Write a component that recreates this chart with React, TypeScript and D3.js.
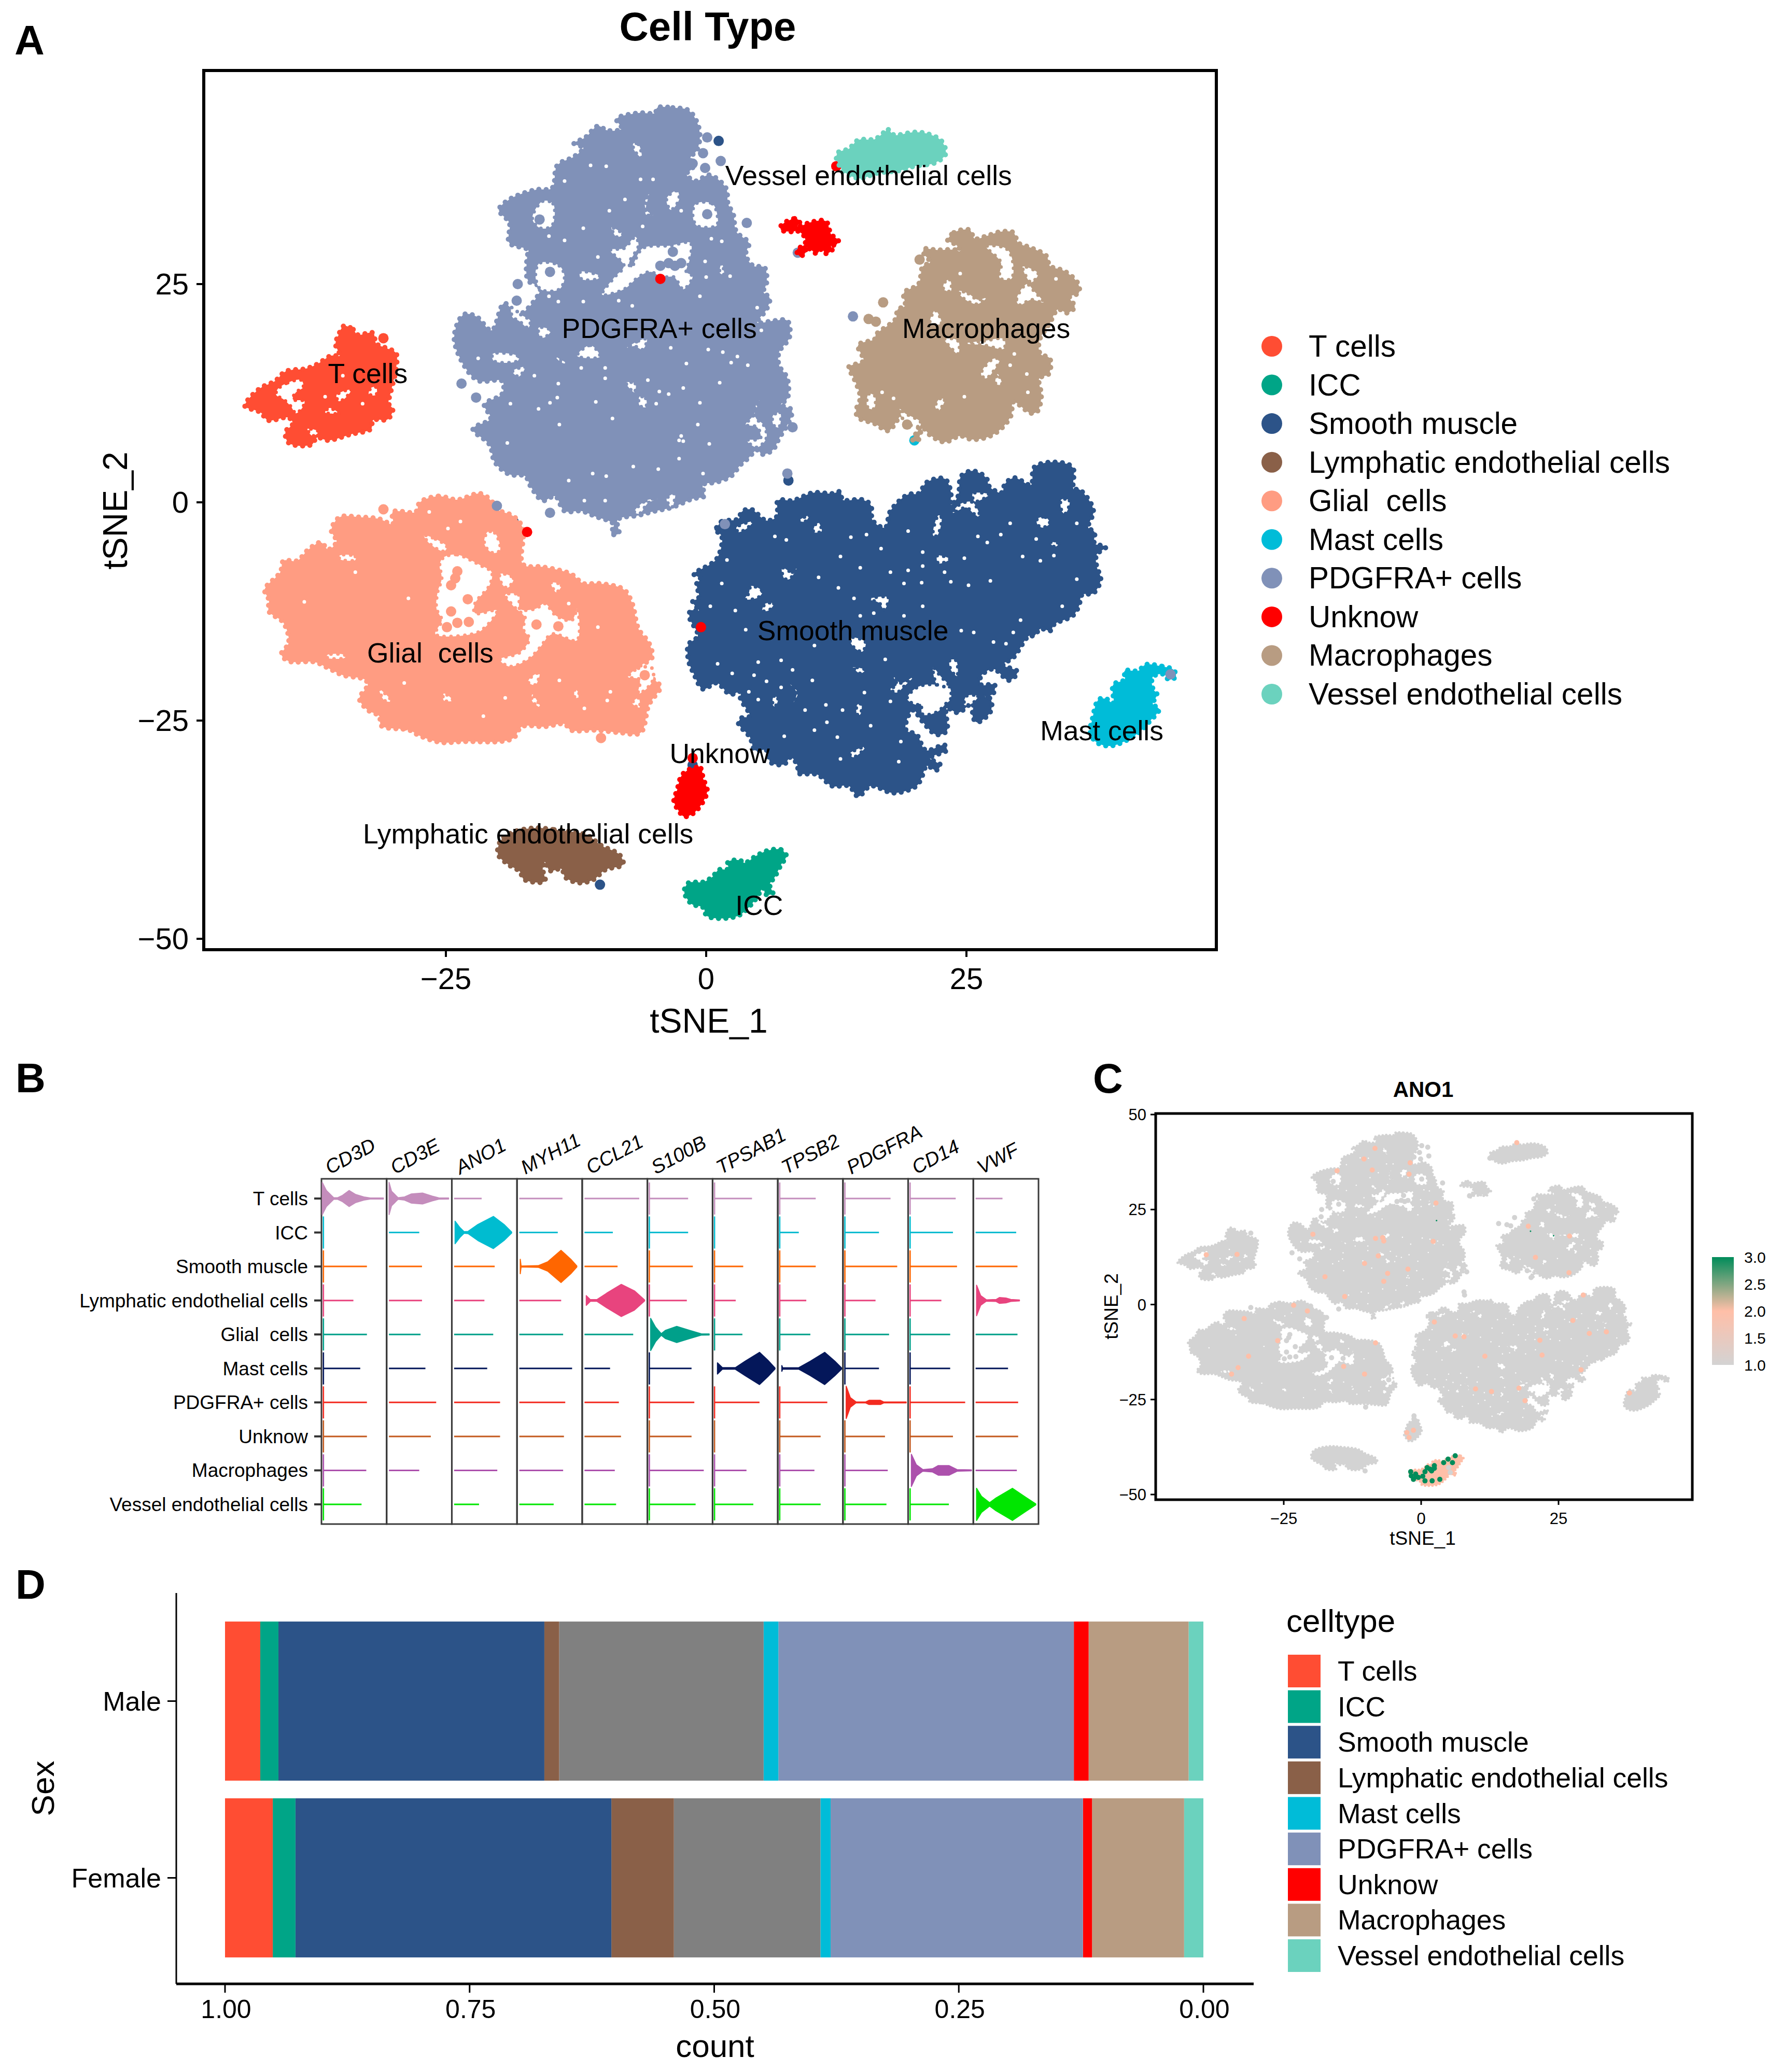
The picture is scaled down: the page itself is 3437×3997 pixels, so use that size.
import React from 'react';
import * as d3 from 'd3';

type Pt = [number, number];

const FONT = '"Liberation Sans", Arial, sans-serif';

// ---- cell types ----
const cellTypes = ['T cells', 'ICC', 'Smooth muscle', 'Lymphatic endothelial cells', 'Glial  cells', 'Mast cells', 'PDGFRA+ cells', 'Unknow', 'Macrophages', 'Vessel endothelial cells'];
const cellColors = ['#FF4D33', '#00A587', '#2C5388', '#8A6048', '#FF9C82', '#00BCD8', '#8091B8', '#FF0000', '#B89C82', '#6BD2BE'];

// ---- panel A: cluster edges, in tSNE units ----
const tCellsOutline: Pt[] = [[-34.8,20.2],[-33.9,19.8],[-33.5,19.2],[-32,19.4],[-31.7,18.2],[-30.8,17.7],[-29.8,17.1],[-29.8,15.2],[-30.3,12.6],[-30.5,11.3],[-30.1,10.7],[-30.6,9.5],[-32,9.4],[-32.2,8.4],[-34.1,7.8],[-36.3,7.1],[-37.4,7.4],[-37.9,6.6],[-40.1,6.8],[-40.4,8.1],[-39.7,9],[-40.1,9.7],[-42.1,9.4],[-42.8,10.3],[-44.3,11],[-44.1,11.6],[-42.8,13.1],[-41.4,13.9],[-40.4,15],[-38.5,15.3],[-37.4,15.8],[-36,16.8],[-35.2,16.8],[-35.6,18.1],[-35.3,19.2]];
const iccOutline: Pt[] = [[5.9,-39.9],[7.2,-39.8],[7.7,-40.5],[7.2,-41.5],[6.6,-42.9],[6.1,-43.8],[6.4,-44.8],[5.7,-44.9],[5.5,-44.2],[4.6,-45.7],[3,-47.4],[0.1,-47.4],[-0.3,-46.4],[-1.4,-46],[-2.1,-44.6],[-1.7,-43.6],[-0.3,-43.5],[0.6,-42.9],[1.2,-42.1],[2.1,-42],[2.1,-41.2],[3.2,-41],[3.7,-41.3],[4.8,-40.5]];
const smoothOutline: Pt[] = [[1,-2.9],[1.5,-2.2],[3.1,-1.9],[3.4,-1.1],[4.3,-0.8],[5.8,-2.1],[6.8,-1.6],[6.9,0.2],[8.3,0.2],[10.3,1.1],[12.1,1],[12.9,1.2],[13.1,0.3],[15,0.3],[15.8,-0.3],[16,-2.1],[17.2,-2.9],[17.7,-1],[19.4,0.9],[20.4,1],[21.2,2.3],[22.9,2.7],[23.5,1.2],[23.5,-0.3],[24.2,0.7],[24.5,3],[25.6,3.6],[26.9,2.8],[27.2,1.8],[28.4,1.1],[28.7,2.1],[29.6,2.8],[31.2,2],[31.5,4],[33.4,4.6],[35.2,4],[35.3,1.5],[35.8,1.5],[36.9,0],[37.2,-1.1],[36.7,-2.9],[37.3,-3.4],[37.3,-4.7],[38.4,-5.1],[37.5,-6],[37.5,-7.3],[37.9,-8.8],[37.2,-10.4],[36.1,-10.6],[35.8,-11.9],[35.2,-13],[33.4,-14],[33.1,-14.7],[32.1,-14.5],[31.5,-15.3],[31,-15.3],[29.5,-17.8],[28.5,-18.6],[29.9,-19.4],[29.1,-20.4],[27.6,-19.1],[26.4,-19.9],[26.4,-20.9],[27.7,-20.9],[27.5,-22],[26.1,-22.2],[27.3,-22.5],[27.3,-24],[26,-25.2],[25.6,-24.5],[25.6,-23],[24.2,-24.1],[23.1,-23.6],[23.1,-26.2],[22.1,-26.6],[20.7,-25],[19.9,-23.8],[19.4,-24.5],[19.2,-26.1],[20.2,-26.6],[21.1,-28.4],[22.9,-27.8],[23.1,-28.4],[21.5,-29.3],[22.5,-30.1],[22.1,-30.7],[21.2,-30.2],[20.7,-31.5],[20.2,-32.5],[18,-33.3],[15.8,-32.5],[14.6,-33.7],[13.7,-32.5],[12.1,-32.5],[10.7,-31.2],[8.8,-31],[8.8,-30.2],[8.1,-29.2],[7.5,-30],[6.2,-29.8],[5.8,-28.4],[4.7,-28.4],[4.2,-26.9],[3.1,-25.3],[3.4,-24.7],[4.2,-24.5],[3.3,-22.5],[3.3,-21.7],[2.3,-22],[1,-20.7],[-0.3,-21.4],[-1.2,-19.6],[-1.7,-18.1],[-1.7,-16.3],[-0.8,-15.3],[-1.6,-13.2],[-1.5,-12.4],[-0.7,-12.4],[-1.3,-11.4],[-0.7,-10.9],[-0.9,-9.3],[-0.5,-8.8],[-1.2,-8.2],[-0.7,-7.8],[1,-6.5],[1.5,-3.9],[0.8,-3.1]];
const lymphOutline: Pt[] = [[-16.4,-37.3],[-14.6,-37.5],[-11.5,-38.1],[-10.1,-39.3],[-8.3,-40.4],[-8,-41.5],[-9.7,-42.1],[-10.8,-43.2],[-12.1,-43.6],[-13.5,-43],[-13.9,-42],[-15,-42.2],[-15.5,-41.2],[-15.7,-42],[-15.5,-43.4],[-17.5,-43.2],[-17.9,-42.3],[-19,-41.5],[-20,-40.3],[-19.7,-38.7],[-18.6,-37.8]];
const glialOutline: Pt[] = [[-27.5,0],[-25.7,0.7],[-23.9,0.3],[-21.7,1],[-20.5,0],[-20.1,-0.8],[-18.5,-1.6],[-17.6,-3],[-17.6,-7.1],[-15.7,-7.4],[-13,-8.2],[-11.8,-9.3],[-10.3,-9.3],[-7.9,-10],[-7.1,-11.6],[-6.5,-14.5],[-5.5,-16.1],[-5.2,-17.8],[-6.5,-19],[-4.7,-20.6],[-4.4,-21.2],[-5.5,-23.2],[-6.3,-26.4],[-8.2,-26.4],[-10.6,-26.1],[-13,-26.1],[-13.6,-25.4],[-15.5,-25.7],[-17.7,-25.7],[-18.5,-27],[-19.8,-27.4],[-23.3,-27.4],[-25.5,-27.5],[-27.6,-26.7],[-28.5,-26.1],[-31.2,-25.6],[-31.4,-24.5],[-32.5,-23.8],[-33.3,-22.5],[-32.5,-20.9],[-32.8,-20.3],[-34.9,-19.8],[-36.3,-19],[-37.6,-18.3],[-40.1,-18.2],[-40.8,-17.4],[-40.1,-16.1],[-40.6,-13.8],[-42,-12.5],[-42,-11.2],[-42.4,-10],[-40.9,-8],[-40.6,-6.7],[-39.3,-6.7],[-38.2,-5.4],[-37,-4.6],[-36.3,-5.4],[-35.5,-4.5],[-36,-3.2],[-35.2,-1.7],[-33.3,-1.7],[-31.4,-1.9],[-30.1,-2.5],[-30.1,-1.1],[-27.9,-1.1]];
const mastOutline: Pt[] = [[42.2,-18.6],[43.8,-18.8],[44.9,-19.2],[45.1,-20],[44.4,-20.3],[44,-19.7],[42.9,-20],[42.9,-21.3],[43.3,-22],[42.9,-23.1],[43.5,-23.7],[42.6,-25.1],[41.3,-26.6],[38.9,-27.9],[37.5,-27.5],[36.9,-26.4],[37.1,-24.8],[37.7,-22.6],[38.4,-22.5],[39.1,-23],[39.1,-20.9],[40.2,-20.3],[40.2,-19.3],[41.5,-19.3]];
const pdgfraOutline: Pt[] = [[-4.7,45.2],[-3.2,45.2],[-1.7,44.9],[-0.9,43.6],[-0.6,42],[-0.9,40.3],[-1.5,39.5],[-1.3,38.3],[-1.9,37.6],[-1,36.8],[0.3,37.5],[1.9,36],[2.1,34.2],[2.6,33],[2.9,31],[4.1,29.7],[3.8,28.4],[4.5,27.1],[5.6,26.9],[5.8,25.1],[5.5,24.1],[6.1,23.4],[5.8,22.1],[4.9,20.6],[6.5,20.8],[7.8,20.8],[8,18.9],[7,17.2],[7,15.7],[7.8,14.2],[7.8,11.9],[7.2,11.2],[8.2,10.6],[8.1,9.6],[7,7.3],[6.4,6],[5.4,5.5],[4.9,6],[4,5],[3.3,4.3],[2.4,3],[1,2.3],[-0.3,2],[-0.2,0.7],[-1.3,0.4],[-3.3,-0.6],[-4.9,-1],[-6.5,-1.5],[-8.5,-2],[-8.4,-3.6],[-9.1,-3.6],[-8.9,-2.5],[-10.7,-1.6],[-12,-1],[-13.6,-1],[-14.5,0.7],[-15.7,0.2],[-16.8,1.7],[-17.4,3],[-18.9,3.2],[-20.3,4.6],[-20.8,6.6],[-22.4,8.4],[-20.7,9.6],[-21.3,11.2],[-19.6,12.4],[-19.6,13.9],[-21.8,13.9],[-23,15.2],[-24.2,18.8],[-23.3,21.5],[-22.1,21.3],[-20.6,19.7],[-19.4,22.8],[-18,21.5],[-15.9,24.6],[-17.1,25.4],[-17.2,28.1],[-17.1,28.9],[-18.9,29.7],[-18.9,32],[-19.9,33.5],[-18.9,34.7],[-16.4,35.8],[-14.8,36],[-14.3,38.6],[-12.7,39.6],[-11.8,40.6],[-12.7,41.1],[-11.6,41.8],[-10.4,43.1],[-9.5,42.6],[-8.1,42.8],[-8.6,43.9],[-6.5,44.6],[-4.9,44.6]];
const unknowTopOutline: Pt[] = [[7.2,31.7],[8.5,32.5],[9,32.2],[8.8,31.6],[10.1,32.1],[11.5,32.2],[12,30.7],[12.7,30],[12.5,29.5],[12,29.4],[12.1,28.9],[11.5,28.5],[11.1,29],[10.6,28.5],[10,29],[9.5,29.2],[9.6,28.7],[9,28.2],[8.7,28.9],[9.5,29.6],[9.4,30.5],[8.7,31.1],[8.3,31],[7.2,31.2]];
const unknowLowOutline: Pt[] = [[-1.2,-30.4],[-0.5,-30.5],[-0.3,-31.6],[0.1,-33],[-0.3,-34.3],[-1.2,-35.6],[-2.1,-36],[-2.6,-35.4],[-3.1,-34.2],[-2.8,-33],[-2.3,-31.2]];
const macroOutline: Pt[] = [[23.2,30],[23.8,30.9],[25.3,31.2],[25.8,30.2],[26.9,30.5],[28.3,31],[29.5,30.9],[30,29.7],[31.1,29.2],[32.7,28.2],[33,27.1],[34.4,26.5],[35.7,25.1],[35.8,24],[34.9,23.5],[35.4,22.4],[34.7,21.7],[33.8,22.1],[33,20.5],[32,18.5],[32.1,17],[33,16.5],[32.9,14.7],[32,14.2],[32.2,12.2],[31.8,10.4],[31.2,10.2],[29.5,11.5],[29.3,10],[28.4,8.5],[27.1,7.5],[25.5,7.2],[24.4,7.6],[22.9,6.9],[21.5,7.7],[20.8,8.5],[20.3,7],[19.8,7.2],[20.4,8.5],[18.9,10],[17.5,8.2],[16.2,9],[14.6,9.7],[14.4,10.5],[14.8,12],[14.2,14.2],[13.7,15.5],[15.1,16.2],[14.6,18],[16.2,18.7],[16.3,19.2],[18.2,21],[18.4,22.1],[19.1,22.5],[19,24],[20.4,25],[20.8,27],[21.5,27.5],[20.9,28.5],[20.9,29],[22.2,28.9],[24,28.9],[24.6,28.5],[24,29.5]];
const vesselOutline: Pt[] = [[17.1,42.4],[17.5,42.7],[18,42.1],[20,42.4],[21.3,42.2],[22.6,41.4],[23,39.9],[22,38.9],[20,38.5],[18.6,38],[16.4,37.7],[14.8,37.1],[13.7,37.5],[13,38.2],[12.5,39.5],[12.7,40.1],[13.7,40.5],[14.6,41.5],[16.2,41.6]];

// ---- empty patches inside the clusters ----
const tCellsGaps: Pt[][] = [
  [[-41.2,12.9],[-40.2,13.7],[-38.9,14],[-38.7,13.2],[-39.4,12.6],[-39.7,11.8],[-38.6,11.6],[-38.7,11],[-39.4,10.2],[-39.9,11],[-40.6,11.8],[-41.3,12.3]],
  [[-35.5,12.3],[-34.1,12.9],[-34.7,11.9],[-35.3,11.6]],
  [[-36.6,10.3],[-35.3,10.2],[-36.2,10.8]],
  [[-32.2,13.1],[-31.7,13.2],[-31.7,12.3],[-32.4,12.4]],
  [[-38.3,8.4],[-37.2,8.1],[-37.8,7.6]],
];
const smoothGaps: Pt[][] = [
  [[23.3,-21],[23.5,-22.5],[23,-23.1],[22.2,-24],[20.8,-24.3],[20.6,-23.1],[20.2,-23.2],[19.3,-22.5],[20,-21.4],[21,-20.9],[22.2,-20.9]],
  [[21.8,-18.9],[22.2,-20.9],[23.3,-21],[22.5,-19.9]],
  [[25,-22.2],[26.1,-22.2],[25.6,-23],[24.8,-23.2]],
  [[25.6,0],[26.3,-1.7],[25.7,-1.3],[25,-0.6],[23.7,-1.2],[24.4,-0.2]],
  [[25.6,1],[27.2,0.9],[25.8,0.1]],
  [[31.8,-1.9],[32.6,-1.7],[33,-2.4],[32.3,-2.9],[31.8,-2.5]],
  [[34.1,0.3],[34.9,0.2],[34.5,-1.3],[34.2,-1.1]],
  [[22.3,-1.5],[22.6,-1.7],[22.2,-3.8],[21.8,-3.8]],
  [[4.3,-9.6],[5.4,-10.2],[5,-10.9],[3.7,-11.1],[4.1,-10.4]],
  [[7.3,-7.5],[8.3,-8],[8.8,-7.3],[8,-8.8],[7.5,-8.7]],
  [[2.9,-2.9],[4.5,-2.2],[3.9,-3],[3.1,-3.4]],
  [[10.3,-3.4],[10.7,-2.2],[11.1,-3.3]],
  [[8.9,-2.1],[9.9,-1.5],[9.5,-2.2]],
  [[15.6,-11.1],[17.5,-10.9],[17.1,-12.3],[16.6,-11.5]],
  [[5.7,-11.6],[6.5,-11.6],[6,-12.4],[5.4,-12.4]],
  [[13.8,-15.5],[15.3,-16],[15,-17.1],[14.1,-16.5]],
  [[13.8,-28.8],[15.3,-28],[15,-28.5],[14.1,-29.2]],
  [[17.9,-19.8],[18.7,-20.7],[19.9,-20],[19,-21.1],[18.3,-21.8],[17.7,-21.4],[18.3,-20.9]],
  [[6.5,-22.2],[6.9,-22.5],[6.6,-23.4],[6.4,-23.2]],
  [[7.9,-20.7],[8.8,-21.8],[8.4,-22.9],[8.7,-21.8]],
  [[14.5,-23.2],[14.9,-23.1],[14.8,-24.3],[14.5,-24.3]],
  [[14.1,-18.9],[15.3,-19.2],[14.8,-19.6]],
  [[22.2,-6.1],[23.4,-6.5],[22.3,-7]],
  [[33,-4.6],[33.9,-4.7],[33.5,-5.1]],
  [[23.4,-18.1],[24,-18.1],[24.1,-19.9],[23.5,-19.2]],
];
const glialGaps: Pt[][] = [
  [[-25.2,-6.3],[-23.9,-6],[-22.5,-6.7],[-21.7,-7.2],[-20.6,-8],[-20.8,-9.5],[-22.2,-11.6],[-22.2,-12.7],[-20.1,-12.4],[-21.4,-14.5],[-22.5,-15.1],[-26,-15.1],[-25.4,-13.5],[-25.9,-12.2],[-25.8,-10.3],[-25.4,-8.7],[-25.6,-7.1]],
  [[-19.3,-10.6],[-18,-10.6],[-17.9,-12.2],[-16.4,-12.2],[-15.5,-11.6],[-14.4,-13],[-12.9,-13.5],[-12.4,-12.2],[-12.4,-15.8],[-14.8,-15.1],[-16,-16.7],[-17.1,-18],[-18.9,-18.8],[-19.8,-18],[-17.9,-17.2],[-17,-15.6],[-17.6,-14.5],[-17.4,-13.2],[-18.5,-11.9]],
  [[-19.8,-8.2],[-18.5,-8.7],[-19.1,-9.8],[-19.7,-9.2]],
  [[-21,-3.4],[-20.3,-3.5],[-19.8,-5.5],[-20.5,-5.8],[-21.3,-4.8]],
  [[-14.9,-9.2],[-13.9,-9.5],[-14.4,-10.3]],
  [[-16.8,-20],[-16,-19.5],[-16.4,-20.9],[-17.1,-20.6]],
  [[-7.5,-20],[-6.5,-19],[-5.2,-19],[-5.2,-20.6],[-6.5,-21.9],[-6.4,-20.3]],
  [[-7.1,-23],[-6.5,-22.4],[-6.4,-23.5]],
  [[-12.6,-21.4],[-12.1,-22.2],[-12.6,-22.4]],
  [[-16.7,-22],[-15.9,-23.5],[-16.7,-22.8]],
  [[-31.4,-21.4],[-30.2,-22.8],[-30.9,-22.7]],
  [[-25.2,-21.9],[-24.3,-22.7],[-25.2,-22.7]],
  [[-36.4,-17.5],[-34.7,-17.5],[-34.7,-17.8],[-36.4,-17.8]],
  [[-35.2,-6.1],[-33.7,-6.2],[-33.7,-6.6],[-35.2,-6.5]],
  [[-27.1,-3.8],[-26,-4.2],[-24.9,-5.1],[-25.2,-5.6],[-26.5,-4.8]],
];
const pdgfraGaps: Pt[][] = [
  [[-15.7,34.5],[-14.7,34.2],[-14.8,31.7],[-15.9,31.4],[-16.7,32.5]],
  [[-1,34.2],[0.6,34.2],[1.1,32.7],[1,31.7],[-0.9,31.7],[-1.3,33]],
  [[-9.2,28.9],[-7.9,29.1],[-6.8,30.4],[-6.5,29.4],[-7.4,27.4],[-7.2,26.9],[-6.1,29.1],[-3.5,29.4],[-1.5,29.7],[-1.6,27.7],[-1.9,26.4],[-1.3,25.9],[-2.2,24.4],[-3.1,25.8],[-4.2,25.8],[-5.4,26.4],[-6.5,25.8],[-7.9,24.4],[-10,23.8],[-8.8,25.8],[-7.9,27.1]],
  [[-16,27.4],[-14.1,27.1],[-13.6,25.8],[-14.1,24.4],[-15.9,24.4],[-16.4,26.1]],
  [[-12.1,26.4],[-10.2,25.9],[-10.4,25.6],[-12,25.6]],
  [[-20.5,17],[-18,16.7],[-18.1,16.2],[-20.4,16.2]],
  [[-12.4,16.8],[-11.1,18],[-10.2,16.7],[-11.3,16.5]],
  [[-18.7,22.3],[-17.8,21.5],[-16.9,20.8],[-17.1,20],[-18,20.8],[-18.6,21.2]],
  [[5.1,11.7],[4.5,9.9],[3.8,8.9],[4.9,8.6],[5.2,7.3],[3.9,7.1],[4.9,6.3],[5.8,7.4],[5.5,8.9],[4.8,9.6],[4.7,10.8]],
  [[6.4,9.9],[7.1,10.3],[7,8.6],[6.5,8.8]],
  [[-5.5,35.3],[-5.9,34.3],[-5.7,33.4],[-5.1,32.9],[-5.8,33]],
  [[-3.8,34.8],[-2.8,35.7],[-2.6,34.7],[-3.4,33.5]],
  [[-7.6,17.7],[-6.5,18.5],[-5.7,18.7],[-6.1,17.5],[-6.9,17.9]],
  [[-7.7,13.7],[-6.8,13.6],[-6.9,12.6]],
  [[-9.1,31.5],[-8,30.7],[-8.6,30.4]],
  [[-16.1,20],[-14.9,19.7],[-15.5,18.9],[-15.9,18.9]],
  [[1.5,27.4],[1.7,26.1],[1.3,26.3]],
  [[-7,41.1],[-6.5,41],[-6.2,39.5],[-6.9,40.3]],
  [[-6.4,12.1],[-5.8,11.9],[-5.8,10.9],[-6.4,11.1]],
  [[-14.5,16.7],[-13.4,15.9],[-13.9,16]],
  [[-18.6,15],[-17.4,15.5],[-18,14.4]],
  [[-6.9,-1.1],[-5.8,0.2],[-4.7,0.4],[-5.6,-0.1],[-6.4,-1.3]],
  [[-3.8,0.4],[-3,1],[-3.3,-0.6]],
];
const macroGaps: Pt[][] = [
  [[26.9,29.3],[28.9,29],[29.5,27.2],[29.3,25.6],[28.2,25.7],[28.3,27.5]],
  [[30.8,25],[29.8,23.2],[30.1,22.6],[31.2,23.2],[32.4,22.9],[31.5,24.2]],
  [[30.4,27],[31.9,26.2],[31.2,25.2]],
  [[24.3,24.2],[25.2,23.9],[26.1,23.2],[27,23.5],[26,22.7],[24.5,23.6]],
  [[22.9,25.2],[23.4,25.5],[23.5,24.2],[22.8,24.4]],
  [[22,22],[22.6,20.5],[21.5,20.5]],
  [[22.9,18.7],[24.2,18.5],[24.2,17],[23.5,17.7]],
  [[24.9,18.2],[26.7,18.5],[28.6,18.7],[28.6,17.6],[26.7,18]],
  [[27.5,16.4],[28.2,16.4],[26.9,14.2],[26.4,14.7]],
  [[28,14.7],[28.4,13.5],[27.8,13.6]],
  [[15.6,12.4],[16.2,12.2],[16.1,10.7],[15.5,10.9]],
  [[18.6,10.7],[19.1,9.2],[20.5,8.7],[20.6,9.2],[19.1,10.2]],
  [[22.5,11.9],[22.9,11.7],[22.3,10.5],[22,11]],
];

// small single holes
const tCellsSpecks: Pt[] = [[-36.6,12.1],[-33,11.3],[-34.9,14.5]];
const smoothSpecks: Pt[] = [[15.4,-3.7],[13.9,-4],[6.6,-3.9],[10.8,-8.6],[12.7,-9.8],[14.2,-11],[24.8,-6.4],[35.6,-8.8],[34.2,-11.9],[28.8,-16.2],[20.8,-11.9],[19,-9.3],[20.7,-9.2],[10.4,-16.4],[10.2,-20.4],[4.6,-19.8],[2.5,-19.6],[29.5,-14.9],[25.7,-14.9],[12.6,-26.9],[11.6,-25.2],[2,-6.6],[0.4,-11.9],[1.5,-9.3],[2.8,-12.4],[3.8,-14.6],[7.7,-4.3],[12.9,-6.2],[16.8,-5.3],[14.8,-7.5],[17.7,-8],[19.4,-7.8],[20.8,-7.3],[22.9,-8],[23.5,-9.1],[25.2,-9.5],[27.3,-9],[32.1,-6.7],[33.4,-6.1],[30.4,-6.2],[31.7,-4.2],[29.2,-2.4],[28.3,-3.7],[26.1,-3.9],[35.6,-2.4],[27,-4.6],[20.8,-5.7],[19.4,-3.3],[14.8,-13],[19,-13],[16.1,-12.7],[24.5,-14.7],[30.2,-13.5],[27.6,-16],[17.2,-18],[7.2,-18.1],[1.1,-18.5],[5,-18.3],[8.3,-19.2],[5.8,-20.5],[7.2,-21.2],[4.1,-21.7],[5,-22.6],[9.5,-23.8],[11.5,-23.2],[13.1,-23.8],[17.7,-22.8],[15.2,-21.8],[7.5,-26.8],[10.4,-26.1],[15.8,-25.6],[18.7,-27.4],[12.9,-29.4],[18.5,-29.7]];
const glialSpecks: Pt[] = [[-26.6,-1.1],[-23.6,-2.2],[-24.8,-3],[-38.6,-11.4],[-10.4,-14.3],[-19.3,-22.4],[-9.5,-22.7],[-11.7,-23.6],[-21.4,-24.5],[-29,-20.7],[-14.1,-20.4],[-9.2,-21.7],[-33.7,-8],[-28.6,-11],[-13.2,-11.6]];
const pdgfraSpecks: Pt[] = [[-11.8,31.4],[-11.1,38.6],[4,15.7],[0.2,17.5],[-3.4,17.7],[-1.9,15.9],[2.4,16],[-21.9,16.5],[-14.2,13.6],[-0.6,23.6],[-8.4,23.1],[-7.1,22.5],[-0.8,8.9],[-2.6,7.1],[-9.7,0.2],[-11.7,0.2],[-14.1,8.9],[-0.6,11.4],[-7.8,34.7],[-13.6,36.8],[-2.4,33.4],[5.3,19.7],[-9.6,38.5],[-6.3,37],[-5.1,37],[-9.3,33.4],[-13.6,30],[-15.1,30.5],[-6.1,31.6],[1.5,29.9],[0.5,30.2],[-10.4,28.1],[-0.1,27.6],[0,25.8],[2.3,25.9],[4.9,22.3],[-11.8,23],[-15.1,23.6],[-14.2,23],[1.6,17.2],[3,16.7],[-9.7,15.4],[-12,15.4],[-16.5,14.5],[-9.7,14.2],[-5.6,14],[1.3,13.7],[-4.5,12.7],[-3.6,12.4],[-2.2,13.1],[-14.3,12],[-18.8,11.3],[-16.1,10.7],[-15,11.4],[-10.6,11.5],[-4.8,11.3],[-9,9.6],[-2.4,7.6],[-2.2,7],[0.3,6.7],[-10.9,3.3],[-9.6,3],[-13.2,2.5],[-4.6,3.8],[-0.3,3.3],[-2.6,5],[-7,4.1],[-19.1,6.8]];
const macroSpecks: Pt[] = [[30.9,12.6],[29.2,15.7],[30.8,14.7],[16.9,12.6],[18,11.9],[24.8,12.1],[29.6,17],[33.6,25.6],[24.4,26.2]];

// points sitting alone or in the holes, by cell type
const tCellsDots: Pt[] = [[-31,18.8]];
const iccDots: Pt[] = [];
const smoothDots: Pt[] = [[1.2,41.4],[7.9,2.5],[-18.5,-2.2],[-10.2,-43.8],[-1.3,-30.1]];
const lymphDots: Pt[] = [];
const glialDots: Pt[] = [[-24.1,-8.7],[-23.9,-7.9],[-24.5,-9.5],[-22.9,-11.1],[-24.5,-12.5],[-24.9,-14.3],[-23.9,-13.8],[-22.8,-13.7],[-16.3,-14],[-14.2,-14.2],[-5.9,-19.8],[-31,-0.8],[-10.1,-27],[-29,-25.6]];
const mastDots: Pt[] = [[20,7.1]];
const pdgfraDots: Pt[] = [[-16,32.4],[0.1,33],[-15,26.4],[-4.4,27.1],[-3.2,28.7],[-3,27.1],[-2.4,27.4],[-5.3,25.8],[-3.6,27.4],[0.1,41.8],[-0.3,40],[1.4,39.1],[-0.1,38.3],[-1.3,38.8],[3.9,32],[-18.1,25],[-18.2,23.1],[-23.5,13.6],[-22.1,12],[-15,-1.2],[8.3,8.6],[7.8,3.3],[-20.1,-0.4],[1.8,-2.5],[8.8,28.6],[14.1,21.3],[44.6,-19.7]];
const unknowDots: Pt[] = [[-4.4,25.6],[-17.2,-3.4],[12.5,38.5],[-0.5,-14.3],[-1.3,-29.3]];
const macroDots: Pt[] = [[17,22.9],[15.6,21],[16.3,20.7],[19.3,8.9],[20.5,27.8]];
const vesselDots: Pt[] = [];

const clusterOutlines: Pt[][][] = [[tCellsOutline], [iccOutline], [smoothOutline], [lymphOutline], [glialOutline], [mastOutline], [pdgfraOutline], [unknowTopOutline, unknowLowOutline], [macroOutline], [vesselOutline]];
const clusterGaps: Pt[][][] = [tCellsGaps, [], smoothGaps, [], glialGaps, [], pdgfraGaps, [], macroGaps, []];
const clusterSpecks: Pt[][] = [tCellsSpecks, [], smoothSpecks, [], glialSpecks, [], pdgfraSpecks, [], macroSpecks, []];
const clusterDots: Pt[][] = [tCellsDots, iccDots, smoothDots, lymphDots, glialDots, mastDots, pdgfraDots, unknowDots, macroDots, vesselDots];
const drawOrder = [5, 0, 1, 2, 3, 4, 6, 7, 8, 9];

const tsneTicksX = [-25, 0, 25];
const tsneTicksYA = [25, 0, -25, -50];
const tsneTicksYC = [50, 25, 0, -25, -50];

const labelNames = ['Vessel endothelial cells', 'Macrophages', 'PDGFRA+ cells', 'T cells', 'Smooth muscle', 'Glial  cells', 'Mast cells', 'Unknow', 'Lymphatic endothelial cells', 'ICC'];
const labelX = [15.6, 26.9, -4.5, -32.5, 14.1, -26.5, 38, 1.3, -17.1, 5.1];
const labelY = [37.4, 19.9, 19.9, 14.7, -14.7, -17.3, -26.2, -28.8, -38, -46.2];

// ---- panel B ----
const genes = ['CD3D', 'CD3E', 'ANO1', 'MYH11', 'CCL21', 'S100B', 'TPSAB1', 'TPSB2', 'PDGFRA', 'CD14', 'VWF'];
const violinRows = ['T cells', 'ICC', 'Smooth muscle', 'Lymphatic endothelial cells', 'Glial  cells', 'Mast cells', 'PDGFRA+ cells', 'Unknow', 'Macrophages', 'Vessel endothelial cells'];
const violinColors = ['#C48DBC', '#00BCD0', '#FF6600', '#E8447E', '#00A08A', '#04175A', '#F32B20', '#C3591E', '#AC50AC', '#00E600'];
const spikeGenes = ['CD3D', 'S100B', 'TPSAB1', 'TPSB2', 'PDGFRA', 'CD14'];
// highest expression reached per row and gene
const maxExpression = [
  [3.8, 3.8, 1.83, 2.79, 3.5, 2.5, 2.42, 2.33, 2.92, 2.92, 1.79],
  [0, 2.0, 3.67, 2.5, 1.88, 2.5, 0, 1.29, 2.21, 2.75, 2.63],
  [2.79, 2.17, 2.63, 3.67, 2.17, 2.79, 1.88, 2.33, 3.33, 3.0, 2.71],
  [1.96, 2.17, 2.0, 2.71, 3.83, 2.42, 1.42, 1.75, 2.0, 2.04, 2.83],
  [2.79, 2.08, 2.54, 2.83, 3.13, 3.79, 1.83, 2.0, 2.83, 2.58, 2.71],
  [2.38, 2.38, 2.17, 3.38, 1.71, 2.71, 3.83, 3.92, 2.21, 2.58, 2.13],
  [2.79, 3.04, 2.96, 2.96, 2.25, 2.88, 2.88, 3.04, 3.88, 3.5, 2.75],
  [2.79, 2.71, 2.96, 2.88, 2.38, 2.71, 0, 2.63, 2.58, 2.75, 2.75],
  [2.75, 2.0, 2.79, 2.83, 2.0, 3.46, 2.08, 2.25, 2.75, 3.88, 2.67],
  [2.46, 0, 1.67, 2.25, 2.08, 2.96, 2.5, 2.63, 2.67, 2.5, 3.83],
];
// full violin shapes where a marker is expressed: [expression, half width]
const violinShapes: { gene: string; row: string; shape: Pt[] }[] = [
  { gene: 'CD3D', row: 'T cells', shape: [[0.05,1],[0.3,0.5],[0.75,0.05],[1,0.05],[1.3,0.2],[1.7,0.5],[2.1,0.25],[2.6,0.1],[3,0.03],[3.8,0.03]] },
  { gene: 'CD3E', row: 'T cells', shape: [[0.15,1],[0.3,0.45],[0.7,0.05],[1.1,0.1],[1.5,0.28],[2.2,0.34],[2.8,0.15],[3.2,0.04],[3.8,0.03]] },
  { gene: 'ANO1', row: 'ICC', shape: [[0.2,0.7],[0.5,0.3],[0.75,0.05],[1,0.07],[1.6,0.5],[2.55,1],[3.2,0.5],[3.67,0.03]] },
  { gene: 'MYH11', row: 'Smooth muscle', shape: [[0.2,0.45],[0.25,0.03],[1.3,0.05],[1.9,0.3],[2.7,1],[3.3,0.45],[3.67,0.03]] },
  { gene: 'CCL21', row: 'Lymphatic endothelial cells', shape: [[0.25,0.3],[0.5,0.05],[0.9,0.05],[1.5,0.45],[2.4,1],[3.2,0.6],[3.83,0.03]] },
  { gene: 'S100B', row: 'Glial  cells', shape: [[0.2,1],[0.5,0.45],[0.85,0.05],[1.1,0.25],[1.8,0.5],[2.6,0.25],[3.3,0.04],[3.79,0.03]] },
  { gene: 'TPSAB1', row: 'Mast cells', shape: [[0.3,0.35],[0.6,0.05],[1.4,0.05],[2,0.45],[2.88,1],[3.4,0.5],[3.83,0.03]] },
  { gene: 'TPSB2', row: 'Mast cells', shape: [[0.25,0.18],[0.3,0.04],[1.3,0.05],[2,0.45],[2.88,1],[3.5,0.45],[3.92,0.03]] },
  { gene: 'PDGFRA', row: 'PDGFRA+ cells', shape: [[0.2,1],[0.45,0.3],[0.8,0.03],[1.4,0.03],[1.6,0.13],[2.3,0.13],[2.5,0.03],[3.88,0.03]] },
  { gene: 'CD14', row: 'Macrophages', shape: [[0.2,1],[0.5,0.35],[0.9,0.05],[1.5,0.1],[1.85,0.3],[2.5,0.3],[3,0.05],[3.88,0.03]] },
  { gene: 'VWF', row: 'Lymphatic endothelial cells', shape: [[0.2,0.95],[0.45,0.3],[0.8,0.04],[1.4,0.06],[1.6,0.18],[2,0.15],[2.3,0.06],[2.83,0.03]] },
  { gene: 'VWF', row: 'Vessel endothelial cells', shape: [[0.2,1],[0.5,0.5],[1,0.1],[1.4,0.4],[2.4,1],[3.2,0.45],[3.83,0.03]] },
];

// ---- panel C ----
const ano1LowDots: Pt[] = [[17.4,42.6],[-10.4,38.3],[-8.4,41.1],[-15.3,35.2],[-2.2,34.3],[-2,37.3],[-8.9,35.4],[2.7,26.7],[-7,17.6],[-8.3,17.4],[-6.8,16.7],[-19.7,18.5],[2.2,16.6],[-17.5,7.3],[-6.1,8.2],[-6.8,6.1],[-2.4,9.3],[-7.8,12.8],[-10.3,10.8],[-13.9,2.1],[-39.1,13.1],[-33.5,13.2],[19.5,20.6],[27,18],[26.9,8.4],[20.8,12.4],[29.5,2.5],[27.6,-4.2],[2.4,-4.6],[7.8,-8.5],[6.2,-8.3],[21.6,-9.4],[11.6,-13.6],[30.6,-7.6],[33.7,-7.2],[29.1,-17.2],[9.9,-22.2],[12.8,-22.9],[17.8,-22],[18.9,-25.3],[22,-13.3],[37.9,-23.3],[-20.7,-1.7],[-26.1,-9.5],[-8.3,-10.1],[-31.4,-13.6],[-33.3,-16.6],[-34.5,-18.3],[-10.3,-18.3],[-14.1,-16.3],[-23.2,-0.2],[-32.2,-3.7],[-2.6,-33.7],[-1.4,-33.1],[-2.2,-35]];
const ano1SparseHigh: Pt[] = [[2.8,22.1],[19.9,19.3],[24.1,18.1]];
const ano1IccHigh: Pt[] = [[6.2,-39.8],[5.7,-41.6],[4.9,-40.7],[1.6,-43.3],[0.7,-44],[2.4,-42.4],[-1,-44.6],[-1.9,-44],[-0.5,-45.5],[0.7,-46.4],[-1.4,-46],[2,-46.4],[3.4,-46],[4.1,-41.6],[1.1,-42.9],[0.3,-45.2],[-1.8,-45.1],[1.9,-43.8],[2.4,-43.1],[-0.9,-45.3]];
const iccGreyDots: Pt[] = [[5.3,-44.2],[5,-42.9]];
const ano1Domain = [1, 2, 3];
const ano1Range = ['#D3D3D3', '#FFBFA8', '#008C5A'];
const ano1Ticks = [1, 1.5, 2, 2.5, 3];

// ---- panel D ----
const sexes = ['Male', 'Female'];
const stackedTypes = ['T cells', 'ICC', 'Smooth muscle', 'Lymphatic endothelial cells', 'Glial  cells', 'Mast cells', 'PDGFRA+ cells', 'Unknow', 'Macrophages', 'Vessel endothelial cells'];
const maleShare = [0.036, 0.0186, 0.2718, 0.0151, 0.209, 0.0151, 0.302, 0.0151, 0.1022, 0.0151];
const femaleShare = [0.0488, 0.0232, 0.3229, 0.0639, 0.1498, 0.0104, 0.2579, 0.0093, 0.0941, 0.0197];
const stackColors = ['#FF4D33', '#00A587', '#2C5388', '#8A6048', '#808080', '#00BCD8', '#8091B8', '#FF0000', '#B89C82', '#6BD2BE'];
const countTicks = [1, 0.75, 0.5, 0.25, 0];
const legendDTypes = ['T cells', 'ICC', 'Smooth muscle', 'Lymphatic endothelial cells', 'Mast cells', 'PDGFRA+ cells', 'Unknow', 'Macrophages', 'Vessel endothelial cells'];

const fmt = (n: number) => (n < 0 ? '\u2212' + Math.abs(n) : String(n));

function Clusters({ x, y, r, speck, color, gapBump }: { x: d3.ScaleLinear<number, number>; y: d3.ScaleLinear<number, number>; r: number; speck: number; color: (i: number) => string; gapBump: number }) {
  const blob = d3.line<Pt>().x(d => x(d[0])).y(d => y(d[1])).curve(d3.curveCatmullRomClosed.alpha(0.5));
  return (
    <g>
      {drawOrder.map(i => (
        <g key={i} fill={color(i)}>
          {clusterOutlines[i].map((o, k) => (
            // round dashes along the edge give the bumpy rim of overlapping points
            <path key={k} d={blob(o) || ''} stroke={color(i)} strokeWidth={r} strokeLinecap="round" strokeDasharray={`0 ${r * 1.4}`} />
          ))}
          {clusterGaps[i].map((g, k) => (
            <g key={k}>
              <path d={blob(g) || ''} fill="#fff" />
              <path d={blob(g) || ''} fill="none" stroke={color(i)} strokeWidth={gapBump} strokeLinecap="round" strokeDasharray={`0 ${gapBump * 1.9}`} />
            </g>
          ))}
          {clusterSpecks[i].map((p, k) => <circle key={k} cx={x(p[0])} cy={y(p[1])} r={speck} fill="#fff" />)}
          {clusterDots[i].map((p, k) => <circle key={k} cx={x(p[0])} cy={y(p[1])} r={r} />)}
        </g>
      ))}
    </g>
  );
}

function PanelA() {
  const x = d3.scaleLinear().domain([-25, 25]).range([860, 1864]);
  const y = d3.scaleLinear().domain([25, -50]).range([548, 1811]);
  const legendY = d3.scalePoint<string>().domain(cellTypes).range([668, 1339]);
  return (
    <g>
      <Clusters x={x} y={y} r={10} speck={3.5} color={i => cellColors[i]} gapBump={7} />
      <rect x={393} y={136} width={1953} height={1696} fill="none" stroke="#000" strokeWidth={6} />
      {tsneTicksX.map(t => (
        <g key={t}>
          <line x1={x(t)} x2={x(t)} y1={1832} y2={1846} stroke="#000" strokeWidth={4} />
          <text x={x(t)} y={1908} textAnchor="middle" fontSize={58}>{fmt(t)}</text>
        </g>
      ))}
      {tsneTicksYA.map(t => (
        <g key={t}>
          <line x1={379} x2={393} y1={y(t)} y2={y(t)} stroke="#000" strokeWidth={4} />
          <text x={364} y={y(t) + 20} textAnchor="end" fontSize={58}>{fmt(t)}</text>
        </g>
      ))}
      {labelNames.map((l, i) => (
        <text key={l} x={x(labelX[i])} y={y(labelY[i]) + 18} textAnchor="middle" fontSize={53.5} style={{ whiteSpace: 'pre' }}>{l}</text>
      ))}
      <text x={1365} y={78} textAnchor="middle" fontSize={78} fontWeight="bold">Cell Type</text>
      <text x={1367} y={1992} textAnchor="middle" fontSize={66}>tSNE_1</text>
      <text transform="translate(245,985) rotate(-90)" textAnchor="middle" fontSize={66}>tSNE_2</text>
      {cellTypes.map((c, i) => (
        <g key={c}>
          <circle cx={2453} cy={legendY(c)} r={20} fill={cellColors[i]} />
          <text x={2524} y={(legendY(c) || 0) + 20} fontSize={58.5} style={{ whiteSpace: 'pre' }}>{c}</text>
        </g>
      ))}
    </g>
  );
}

function PanelB() {
  const col = d3.scaleBand<string>().domain(genes).range([620, 2003]);
  const row = d3.scalePoint<string>().domain(violinRows).range([2312, 2902]);
  const expr = d3.scaleLinear().domain([0, 4]).range([0, col.bandwidth()]);
  const spread = d3.scaleLinear().domain([0, 1]).range([0, 31]);
  const violin = d3.line<Pt>().curve(d3.curveLinearClosed);
  const violinPath = (shape: Pt[]) => {
    const upper = shape.map(d => [expr(d[0]), -spread(d[1])] as Pt);
    const lower = shape.map(d => [expr(d[0]), spread(d[1])] as Pt).reverse();
    return violin([...upper, ...lower]) || '';
  };
  return (
    <g>
      {genes.map(g => (
        <g key={g}>
          <rect x={col(g)} y={2274} width={col.bandwidth()} height={666} fill="none" stroke="#3a3a3a" strokeWidth={3} />
          <text transform={`translate(${(col(g) || 0) + 16},2266) rotate(-28)`} fontSize={38} fontStyle="italic">{g}</text>
        </g>
      ))}
      {violinRows.map((r, i) => (
        <g key={r} transform={`translate(0,${row(r)})`}>
          <text x={594} y={13} textAnchor="end" fontSize={37} style={{ whiteSpace: 'pre' }}>{r}</text>
          <line x1={606} x2={620} y1={0} y2={0} stroke="#333" strokeWidth={4} />
          {genes.map((g, j) => {
            const found = violinShapes.find(v => v.gene === g && v.row === r);
            const left = col(g) || 0;
            const end = maxExpression[i][j];
            return (
              <g key={g} transform={`translate(${left},0)`} fill={violinColors[i]} stroke={violinColors[i]}>
                {found ? (
                  <path d={violinPath(found.shape)} strokeWidth={2} strokeLinejoin="round" />
                ) : (
                  <>
                    {spikeGenes.includes(g) && <line x1={expr(0.12)} x2={expr(0.12)} y1={-spread(1)} y2={spread(1)} strokeWidth={2.6} />}
                    {end > 0 && <line x1={expr(0.14)} x2={expr(end)} y1={0} y2={0} strokeWidth={3} />}
                  </>
                )}
              </g>
            );
          })}
        </g>
      ))}
    </g>
  );
}

function PanelC() {
  const x = d3.scaleLinear().domain([-25, 25]).range([2476, 3006]);
  const y = d3.scaleLinear().domain([50, -50]).range([2150, 2883]);
  const shade = d3.scaleLinear<string>().domain(ano1Domain).range(ano1Range);
  const bar = d3.scaleLinear().domain([1, 3]).range([2633, 2425]);
  return (
    <g>
      <defs>
        <linearGradient id="ano1Bar" x1="0" x2="0" y1="1" y2="0">
          {ano1Ticks.map(t => <stop key={t} offset={(t - 1) / 2} stopColor={shade(t)} />)}
        </linearGradient>
      </defs>
      <Clusters x={x} y={y} r={5} speck={1.2} color={i => (i === 1 ? shade(2) : shade(1))} gapBump={4.5} />
      {iccGreyDots.map((p, i) => <circle key={i} cx={x(p[0])} cy={y(p[1])} r={5} fill={shade(1)} />)}
      {ano1LowDots.map((p, i) => <circle key={i} cx={x(p[0])} cy={y(p[1])} r={5} fill={shade(2)} />)}
      {ano1SparseHigh.map((p, i) => <circle key={i} cx={x(p[0])} cy={y(p[1])} r={1.5} fill={shade(3)} />)}
      {ano1IccHigh.map((p, i) => <circle key={i} cx={x(p[0])} cy={y(p[1])} r={5} fill={shade(3)} />)}
      <rect x={2229} y={2148} width={1035} height={745} fill="none" stroke="#000" strokeWidth={5} />
      {tsneTicksX.map(t => (
        <g key={t}>
          <line x1={x(t)} x2={x(t)} y1={2893} y2={2903} stroke="#000" strokeWidth={3} />
          <text x={x(t)} y={2940} textAnchor="middle" fontSize={31}>{fmt(t)}</text>
        </g>
      ))}
      {tsneTicksYC.map(t => (
        <g key={t}>
          <line x1={2219} x2={2229} y1={y(t)} y2={y(t)} stroke="#000" strokeWidth={3} />
          <text x={2211} y={y(t) + 11} textAnchor="end" fontSize={31}>{fmt(t)}</text>
        </g>
      ))}
      <text x={2745} y={2116} textAnchor="middle" fontSize={42} fontWeight="bold">ANO1</text>
      <text x={2744} y={2980} textAnchor="middle" fontSize={37}>tSNE_1</text>
      <text transform="translate(2156,2520) rotate(-90)" textAnchor="middle" fontSize={37}>tSNE_2</text>
      <rect x={3302} y={bar(3)} width={42} height={bar(1) - bar(3)} fill="url(#ano1Bar)" />
      {ano1Ticks.map(t => <text key={t} x={3364} y={bar(t) + 11} fontSize={30}>{t.toFixed(1)}</text>)}
    </g>
  );
}

function PanelD() {
  const x = d3.scaleLinear().domain([1, 0]).range([434, 2321]);
  const y = d3.scaleBand<string>().domain(sexes).range([3111, 3793]).paddingInner(0.1).paddingOuter(0.05);
  const table = [maleShare, femaleShare].map((shares, i) => {
    const o: Record<string, number | string> = { sex: sexes[i] };
    stackedTypes.forEach((t, j) => { o[t] = shares[j]; });
    return o;
  });
  // stacked from the right so that the first type ends at 1.00
  const series = d3.stack<any>().keys([...stackedTypes].reverse())(table as any);
  const legendY = d3.scalePoint<string>().domain(legendDTypes).range([3224, 3773]);
  return (
    <g>
      {series.map(s => (
        <g key={s.key} fill={stackColors[stackedTypes.indexOf(s.key)]}>
          {s.map((d: any) => (
            <rect key={d.data.sex} x={x(d[1])} width={x(d[0]) - x(d[1])} y={y(d.data.sex)} height={y.bandwidth()} />
          ))}
        </g>
      ))}
      <line x1={340} x2={340} y1={3073} y2={3827} stroke="#000" strokeWidth={3} />
      <line x1={340} x2={2418} y1={3827} y2={3827} stroke="#000" strokeWidth={5} />
      {countTicks.map(t => (
        <g key={t}>
          <line x1={x(t)} x2={x(t)} y1={3827} y2={3844} stroke="#000" strokeWidth={3} />
          <text x={x(t) + 2} y={3893} textAnchor="middle" fontSize={50}>{t.toFixed(2)}</text>
        </g>
      ))}
      {sexes.map(s => (
        <g key={s}>
          <line x1={323} x2={340} y1={(y(s) || 0) + y.bandwidth() / 2} y2={(y(s) || 0) + y.bandwidth() / 2} stroke="#000" strokeWidth={3} />
          <text x={311} y={(y(s) || 0) + y.bandwidth() / 2 + 18} textAnchor="end" fontSize={52}>{s}</text>
        </g>
      ))}
      <text x={1379} y={3968} textAnchor="middle" fontSize={62}>count</text>
      <text transform="translate(104,3450) rotate(-90)" textAnchor="middle" fontSize={62}>Sex</text>
      <text x={2481} y={3148} fontSize={62}>celltype</text>
      {legendDTypes.map(t => (
        <g key={t}>
          <rect x={2484} y={(legendY(t) || 0) - 32} width={63} height={63} fill={stackColors[stackedTypes.indexOf(t)]} />
          <text x={2580} y={(legendY(t) || 0) + 18} fontSize={53.5}>{t}</text>
        </g>
      ))}
    </g>
  );
}

export default function App() {
  return (
    <svg width={3437} height={3997} viewBox="0 0 3437 3997" style={{ position: 'absolute', left: 0, top: 0, background: '#fff' }} fontFamily={FONT} fill="#000">
      <text x={28} y={105} fontSize={80} fontWeight="bold">A</text>
      <text x={30} y={2107} fontSize={80} fontWeight="bold">B</text>
      <text x={2108} y={2108} fontSize={80} fontWeight="bold">C</text>
      <text x={30} y={3084} fontSize={80} fontWeight="bold">D</text>
      <PanelA />
      <PanelB />
      <PanelC />
      <PanelD />
    </svg>
  );
}
